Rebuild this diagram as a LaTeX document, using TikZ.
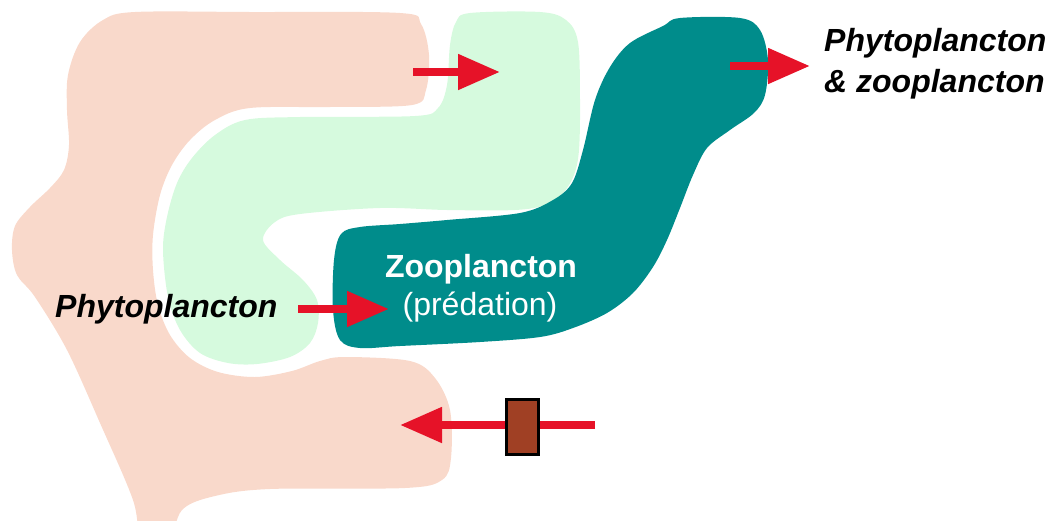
\documentclass[tikz,border=0pt]{standalone}
\usepackage{fontspec}
\setmainfont{Liberation Sans}
\usetikzlibrary{arrows.meta}
\definecolor{plpink}{HTML}{F9D9CB}
\definecolor{plgreen}{HTML}{D6FADE}
\definecolor{plteal}{HTML}{008C8B}
\definecolor{plred}{HTML}{E61228}
\definecolor{plbrown}{HTML}{A04024}
\tikzset{
  blob/.style={smooth cycle,tension=.55},
  flow/.style={-{Triangle[length=42pt,width=34pt]},draw=plred,line width=8pt},
  valve/.style={rectangle,draw=black,fill=plbrown,line width=3pt,minimum width=32pt,minimum height=55pt,inner sep=0pt},
  outlbl/.style={font=\fontsize{32}{37}\selectfont\bfseries\itshape,text=black,inner sep=0pt},
  zoolbl/.style={font=\fontsize{32}{37}\selectfont\bfseries,text=white,inner sep=0pt},
  predlbl/.style={font=\fontsize{32}{37}\selectfont,text=white,inner sep=0pt},
}

\begin{document}
\begin{tikzpicture}[x=1pt,y=-1pt]
  \useasboundingbox (0,0) rectangle (1058,520);
  \clip (0,0) rectangle (1058,520);

  % ---- pink: phytoplancton pool ----
  \fill[plpink] plot[blob] coordinates {(135,12) (250,12) (400,13) (421,24) (429,55) (426,90) (412,105)
    (330,107) (250,108) (215,120) (190,140) (172,165) (160,195) (153,235) (153,270) (158,305)
    (170,335) (190,358) (218,372) (255,377) (292,371) (320,361) (345,357) (410,361) (435,378)
    (450,410) (451,458) (442,480) (405,488) (270,489) (215,496) (182,510) (168,545) (142,545)
    (133,500) (100,423) (67,350) (35,297) (17,275) (12,250) (15,226) (30,207) (50,188)
    (64,170) (69,145) (67,110) (68,75) (80,42) (103,20)};

  % ---- light green ----
  \fill[plgreen] plot[blob] coordinates {(470,13) (540,12) (566,20) (578,42) (580,100) (579,150)
    (574,175) (563,193) (545,205) (515,210) (447,210) (380,208) (300,214) (275,222) (263,240)
    (280,260) (303,280) (317,300) (318,323) (310,343) (290,357) (257,364) (228,363) (200,353)
    (180,330) (168,297) (163,250) (167,217) (177,183) (192,158) (215,135) (245,120) (300,117)
    (415,116) (438,108) (447,85) (450,45) (456,22)};

  % ---- teal: zooplancton ----
  \fill[plteal] plot[blob] coordinates {(680,18) (740,18) (760,30) (768,60) (765,95) (754,113)
    (730,130) (707,148) (693,175) (680,208) (667,240) (653,267) (633,293) (607,313) (573,328)
    (540,337) (480,342) (400,346) (360,348) (340,340) (333,310) (334,260) (341,234) (360,227)
    (400,224) (447,220) (520,213) (553,200) (572,183) (583,150) (595,100) (610,67) (630,43)
    (663,26)};

  % ---- labels ----
  \node[outlbl,anchor=base west] (phyto) at (55,317) {Phytoplancton};
  \node[zoolbl,anchor=base] (zoo) at (481,277) {Zooplancton};
  \node[predlbl,anchor=base] (pred) at (480,315) {(prédation)};
  \node[outlbl,anchor=base west] (out1) at (824,51) {Phytoplancton};
  \node[outlbl,anchor=base west] (out2) at (824,92) {\& zooplancton};

  % ---- flows ----
  \coordinate (f1s) at (413,72);  \coordinate (f1e) at (500,72);
  \coordinate (f2s) at (730,66);  \coordinate (f2e) at (810,66);
  \coordinate (f3s) at (298,309); \coordinate (f3e) at (389,309);
  \coordinate (f4s) at (595,425); \coordinate (f4e) at (400,425);
  \draw[flow] (f1s) -- (f1e);
  \draw[flow] (f2s) -- (f2e);
  \draw[flow] (f3s) -- (f3e);
  \draw[flow] (f4s) -- (f4e);
  \node[valve] (gate) at (522,427) {};
\end{tikzpicture}
\end{document}
